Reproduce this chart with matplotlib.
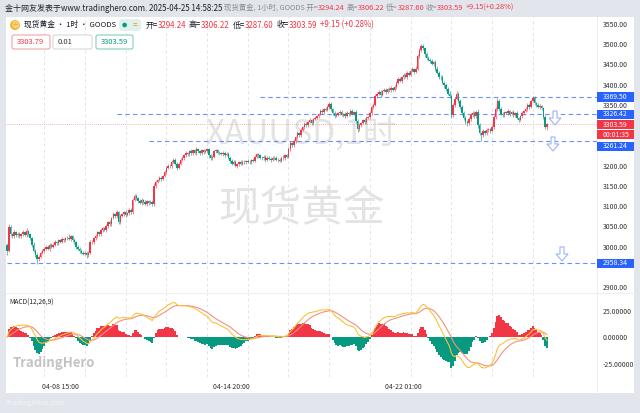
import matplotlib
matplotlib.use("Agg")
import matplotlib.pyplot as plt
import numpy as np
from matplotlib.patches import Rectangle, Circle, FancyBboxPatch, Polygon
from matplotlib.transforms import IdentityTransform

plt.rcParams['font.family'] = ['Noto Sans CJK SC', 'DejaVu Sans']

W, H = 640, 413

# hourly closes (04-07 morning -> 04-25 14:00)
closes = [
  2990, 3048, 3030, 3025, 3035, 3028, 3032, 3025, 3030, 3035,
  3028, 3038, 3030, 3020, 3005, 2990, 2980, 2968, 2975, 2985,
  2990, 2995, 3000, 2995, 3005, 3000, 3005, 3010, 3008, 3015,
  3012, 3018, 3015, 3020, 3022, 3018, 3025, 3015, 3010, 3000,
  2995, 2990, 2985, 2982, 2985, 2978, 2985, 3010, 3012, 3020,
  3025, 3035, 3030, 3040, 3045, 3042, 3050, 3060, 3055, 3070,
  3080, 3075, 3085, 3060, 3075, 3080, 3085, 3078, 3082, 3090,
  3085, 3115, 3125, 3120, 3112, 3108, 3115, 3110, 3105, 3112,
  3108, 3110, 3105, 3150, 3160, 3165, 3170, 3168, 3175, 3185,
  3195, 3200, 3198, 3210, 3215, 3205, 3195, 3205, 3215, 3220,
  3225, 3230, 3228, 3235, 3230, 3238, 3232, 3240, 3235, 3230,
  3238, 3233, 3236, 3240, 3225, 3218, 3222, 3235, 3238, 3232,
  3230, 3228, 3232, 3226, 3229, 3220, 3212, 3205, 3210, 3200,
  3203, 3208, 3205, 3210, 3208, 3212, 3210, 3209, 3214, 3212,
  3222, 3228, 3225, 3220, 3218, 3222, 3215, 3220, 3217, 3215,
  3220, 3218, 3214, 3215, 3212, 3220, 3218, 3225, 3222, 3240,
  3255, 3250, 3260, 3270, 3280, 3275, 3288, 3295, 3303, 3300,
  3308, 3312, 3305, 3315, 3318, 3322, 3328, 3335, 3332, 3340,
  3338, 3345, 3352, 3340, 3330, 3322, 3326, 3330, 3333, 3325,
  3328, 3322, 3330, 3327, 3335, 3328, 3332, 3310, 3290, 3300,
  3305, 3312, 3308, 3318, 3320, 3330, 3345, 3350, 3372, 3378,
  3382, 3375, 3385, 3388, 3382, 3390, 3386, 3392, 3388, 3395,
  3405, 3415, 3410, 3418, 3424, 3420, 3430, 3425, 3435, 3438,
  3432, 3440, 3470, 3485, 3495, 3490, 3475, 3465, 3462, 3458,
  3452, 3455, 3440, 3430, 3420, 3418, 3405, 3398, 3390, 3378,
  3372, 3325, 3350, 3365, 3378, 3360, 3345, 3330, 3318, 3308,
  3305, 3315, 3325, 3330, 3322, 3333, 3300, 3280, 3275, 3285,
  3280, 3288, 3290, 3285, 3295, 3320, 3340, 3360, 3340, 3328,
  3325, 3332, 3330, 3335, 3328, 3332, 3325, 3330, 3318, 3313,
  3322, 3330, 3335, 3340, 3350, 3345, 3360, 3368, 3355, 3350,
  3345, 3348, 3342, 3320, 3294.24, 3303.59,
]
first_open = 3005

# wick lengths above / below the body
upper_wick = [
  4, 7, 5, 4, 6, 3, 5, 4, 3, 5,
  4, 7, 3, 4, 3, 5, 4, 3, 4, 3,
  5, 3, 4, 5, 3, 4, 3, 5, 4, 3,
  4, 5, 3, 4, 3, 8, 4, 3, 5, 3,
  4, 3, 5, 3, 4, 3, 4, 5, 4, 3,
  5, 4, 3, 5, 4, 3, 5, 4, 6, 3,
  5, 4, 6, 4, 5, 3, 4, 5, 3, 4,
  5, 6, 5, 4, 3, 5, 4, 3, 5, 4,
  3, 4, 5, 6, 4, 3, 5, 4, 3, 5,
  4, 5, 3, 4, 5, 3, 4, 5, 3, 4,
  3, 5, 4, 3, 5, 4, 3, 5, 4, 3,
  4, 3, 5, 4, 3, 4, 5, 3, 4, 3,
  5, 3, 4, 3, 5, 4, 3, 4, 5, 3,
  4, 3, 5, 3, 4, 3, 4, 5, 3, 4,
  5, 4, 3, 4, 3, 5, 3, 4, 3, 4,
  3, 4, 5, 3, 4, 3, 5, 4, 3, 6,
  5, 4, 5, 4, 6, 4, 5, 4, 5, 4,
  3, 5, 4, 3, 5, 4, 3, 5, 4, 3,
  5, 4, 6, 4, 3, 5, 4, 3, 5, 4,
  3, 4, 5, 3, 4, 5, 3, 5, 4, 5,
  4, 3, 5, 4, 3, 5, 4, 5, 6, 4,
  5, 4, 3, 5, 4, 3, 5, 4, 3, 5,
  4, 5, 3, 4, 6, 4, 5, 3, 4, 5,
  4, 5, 6, 5, 6, 5, 4, 6, 5, 4,
  5, 4, 6, 5, 4, 5, 6, 4, 5, 4,
  6, 5, 4, 5, 6, 5, 4, 6, 5, 4,
  5, 4, 5, 6, 4, 5, 6, 5, 4, 5,
  4, 5, 3, 4, 5, 6, 5, 8, 5, 4,
  5, 3, 4, 5, 3, 4, 5, 3, 4, 3,
  4, 5, 3, 4, 5, 4, 3, 4, 5, 3,
  4, 5, 3, 4, 5, 2.63,
]
lower_wick = [
  10, 4, 5, 4, 3, 5, 4, 3, 5, 4,
  3, 4, 5, 4, 5, 4, 5, 11, 4, 3,
  4, 5, 3, 4, 5, 3, 4, 3, 5, 4,
  3, 4, 5, 3, 4, 3, 4, 5, 4, 5,
  4, 5, 3, 4, 3, 6, 5, 4, 3, 5,
  4, 3, 5, 4, 3, 4, 5, 3, 4, 5,
  3, 4, 5, 5, 4, 3, 5, 4, 3, 4,
  5, 4, 3, 5, 4, 3, 5, 4, 3, 4,
  5, 3, 4, 4, 5, 3, 4, 5, 3, 4,
  5, 3, 4, 5, 3, 4, 5, 4, 3, 4,
  5, 3, 4, 5, 3, 4, 3, 5, 4, 3,
  4, 5, 3, 4, 5, 4, 3, 4, 5, 3,
  4, 3, 5, 4, 3, 4, 5, 3, 4, 3,
  5, 3, 4, 3, 5, 4, 3, 4, 5, 3,
  4, 3, 5, 4, 3, 4, 5, 3, 4, 5,
  3, 4, 3, 5, 4, 3, 4, 5, 3, 4,
  5, 4, 3, 5, 4, 5, 4, 3, 5, 4,
  5, 3, 4, 5, 3, 4, 5, 3, 4, 5,
  4, 3, 4, 5, 4, 5, 3, 4, 5, 3,
  4, 5, 3, 4, 5, 3, 4, 5, 7, 4,
  5, 3, 4, 5, 3, 4, 5, 4, 3, 5,
  4, 5, 3, 4, 5, 3, 4, 5, 3, 4,
  5, 3, 4, 5, 4, 3, 5, 4, 3, 4,
  5, 4, 3, 4, 5, 4, 6, 5, 4, 5,
  4, 6, 5, 4, 5, 6, 4, 5, 6, 4,
  5, 7, 4, 5, 4, 6, 5, 4, 6, 5,
  6, 5, 4, 5, 4, 5, 6, 5, 13, 5,
  4, 5, 4, 5, 3, 4, 5, 4, 5, 4,
  5, 4, 3, 4, 5, 3, 4, 5, 4, 5,
  3, 4, 5, 3, 4, 5, 3, 4, 5, 4,
  3, 5, 4, 5, 4, 6.64,
]

time_labels = ["04-08 15:00", "04-14 20:00", "04-22 01:00"]
time_label_bars = [30, 127, 224]

levels = [3369.50, 3326.42, 3261.24, 2958.34]
level_start_bars = [143, 62, 80, 0]
last_price = 3303.59

UP = "#f23645"
DOWN = "#089981"
BLUE = "#2962ff"

closes = np.array(closes, dtype=float)
opens = np.concatenate([[first_open], closes[:-1]])
highs = np.maximum(opens, closes) + np.array(upper_wick)
lows = np.minimum(opens, closes) - np.array(lower_wick)
idx = np.arange(len(closes))
up = closes >= opens


def ema(v, n):
  out = np.empty_like(v)
  k = 2.0 / (n + 1)
  out[0] = v[0]
  for i in range(1, len(v)):
    out[i] = v[i] * k + out[i - 1] * (1 - k)
  return out

dif = ema(closes, 12) - ema(closes, 26)
dea = ema(dif, 9)
hist = 2 * (dif - dea)

fig = plt.figure(figsize=(W / 100, H / 100), dpi=100, facecolor="#e2e5ec")
PX = IdentityTransform()


def rect(x0, y0, x1, y1, **kw):
  fig.add_artist(Rectangle((x0, H - y1), x1 - x0, y1 - y0, transform=PX, **kw))


def text(x, y, s, **kw):
  kw.setdefault("va", "center")
  return fig.text(x, H - y, s, transform=PX, **kw)


def runs(x, y, parts, size):
  r = fig.canvas.get_renderer()
  for s, c, gap in parts:
    t = text(x, y, s, color=c, fontsize=size, ha="left")
    x = t.get_window_extent(renderer=r).x1 + gap
  return x


# white chart panel
rect(6, 17, 634, 393, facecolor="white", edgecolor="none", zorder=0)

ax = fig.add_axes([6 / W, 1 - 292 / H, 591 / W, 275 / H])
ax2 = fig.add_axes([6 / W, 1 - 377 / H, 591 / W, 84 / H])
for a in (ax, ax2):
  a.set_facecolor("none")
  for sp in a.spines.values():
    sp.set_visible(False)
  a.set_xlim(-0.6, 333.3)
  for g in np.arange(21, 300, 23.0):
    a.axvline(g, color="#e4e4e4", lw=0.7, ls=(0, (3, 3)), zorder=0)

price_ticks = np.arange(2900, 3551, 50)
hidden = {3300, 3250, 2950}  # covered by the price tags
ax.set_ylim(2887.6, 3567.3)
ax.yaxis.tick_right()
ax.set_yticks(price_ticks)
ax.set_yticklabels(["" if v in hidden else "%.2f" % v for v in price_ticks])
ax.tick_params(axis="y", length=0, pad=4.3, labelsize=5, labelcolor="#333333")
ax.set_xticks([])

# watermark
ax.text(0.5, 0.57, "XAUUSD,1时", transform=ax.transAxes, ha="center", va="center",
        fontsize=24, color="#e3e3e3", zorder=0)
ax.text(0.5, 0.30, "现货黄金", transform=ax.transAxes, ha="center", va="center",
        fontsize=30, color="#e3e3e3", zorder=0)

# candles
ax.vlines(idx, lows, highs, colors=np.where(up, UP, DOWN), lw=0.7, alpha=0.6, zorder=2)
ax.bar(idx, closes - opens, bottom=opens, width=0.85, color=np.where(up, UP, DOWN),
       linewidth=0, zorder=3)

# drawn levels
for lv, st in zip(levels, level_start_bars):
  ax.plot([st, 333.3], [lv, lv], color=BLUE, lw=0.8, ls=(0, (4, 3)), alpha=0.7, zorder=1)
ax.axhline(last_price, color=UP, lw=0.6, ls=(0, (1, 1.5)), alpha=0.5, zorder=1)

# MACD
ax2.set_ylim(-37.7, 41.5)
ax2.bar(idx, hist, width=1.0, color=np.where(hist >= 0, UP, DOWN), linewidth=0, zorder=2)
ax2.plot(idx, dea, color="#f4917f", lw=0.8, zorder=3)
ax2.plot(idx, dif, color="#f8c23c", lw=0.8, zorder=4)
ax2.yaxis.tick_right()
ax2.set_yticks([-25, 0, 25])
ax2.set_yticklabels(["-25.00000", "0.00000", "25.00000"])
ax2.tick_params(axis="y", length=0, pad=4.3, labelsize=5, labelcolor="#333333")
ax2.set_xticks(time_label_bars)
ax2.set_xticklabels(time_labels)
ax2.tick_params(axis="x", length=0, pad=4, labelsize=5, labelcolor="#333333")
ax2.text(0.006, 0.88, "MACD(12,26,9)", transform=ax2.transAxes, fontsize=4.8,
         color="#222222", va="center")
ax2.text(0.012, 0.17, "TradingHero", transform=ax2.transAxes, fontsize=9.5,
         fontweight="bold", color="#b5b5b5", va="center", alpha=0.8, zorder=5)

# axis separators
fig.add_artist(plt.Line2D([597, 597], [H - 393, H - 17], transform=PX, color="#eeeeee", lw=0.8))
fig.add_artist(plt.Line2D([6, 634], [H - 292.5, H - 292.5], transform=PX, color="#eeeeee", lw=0.8))


def price_px(p):
  y0, y1 = ax.get_ylim()
  return 17 + (y1 - p) / (y1 - y0) * 275


# price tags on the right scale
tags = [("3369.50", BLUE, price_px(3369.50)),
        ("3326.42", BLUE, price_px(3326.42)),
        ("3303.59", UP, price_px(last_price) + 1),
        ("00:01:35", UP, price_px(last_price) + 11),
        ("3261.24", BLUE, price_px(3261.24) + 5.5),
        ("2958.34", BLUE, price_px(2958.34))]
for s, c, yc in tags:
  rect(597, yc - 4.6, 634, yc + 4.6, facecolor=c, edgecolor="none", zorder=5)
  text(603, yc, s, color="white", fontsize=5, ha="left", zorder=6)

# hollow down arrows
for cx, cy in [(555, 118), (553, 144), (562, 254)]:
  pts = [(-2, -7), (2, -7), (2, 0), (6, 0), (0, 7), (-6, 0), (-2, 0)]
  fig.add_artist(Polygon([(cx + dx, H - (cy + dy)) for dx, dy in pts], closed=True,
                         transform=PX, facecolor="white", edgecolor="#9fb3f7", lw=0.8, zorder=6))

# header line
x = runs(5, 8, [("金十网友发表于www.tradinghero.com. 2025-04-25 14:58:25", "#222222", 2)], 5.75)
runs(x, 8, [("现货黄金, 1小时, GOODS 开=", "#8a8a8a", 0), ("3294.24", UP, 1.5),
            ("高=", "#8a8a8a", 0), ("3306.22", UP, 1.5),
            ("低=", "#8a8a8a", 0), ("3287.60", UP, 1.5),
            ("收=", "#8a8a8a", 0), ("3303.59", UP, 2),
            ("+9.15(+0.28%)", UP, 0)], 5.3)

# legend row
fig.add_artist(Circle((15, H - 25), 5, transform=PX, facecolor="#f5b731", edgecolor="none", zorder=6))
text(15, 25, "☺", color="white", fontsize=5, ha="center", zorder=7)
x = runs(24, 25, [("现货黄金 · 1时 · GOODS", "#131722", 3)], 5.6)
fig.add_artist(FancyBboxPatch((x, H - 31), 22, 12, boxstyle="round,pad=0,rounding_size=3",
                              transform=PX, facecolor="#dff1ea", edgecolor="none", zorder=6))
fig.add_artist(Circle((x + 5.5, H - 25), 2.3, transform=PX, facecolor=DOWN, edgecolor="none", zorder=7))
text(x + 16, 25, "=", color="#f7931a", fontsize=6, ha="center", zorder=7)
runs(x + 26, 25, [("开=", "#131722", 0), ("3294.24", UP, 3),
                  ("高=", "#131722", 0), ("3306.22", UP, 3),
                  ("低=", "#131722", 0), ("3287.60", UP, 3),
                  ("收=", "#131722", 0), ("3303.59", UP, 3),
                  ("+9.15 (+0.28%)", UP, 0)], 5.7)

# order boxes
for x0, x1, s, ec, tc in [(12, 50, "3303.79", "#f4a3aa", UP),
                          (53, 92, "0.01", "#d8d8d8", "#333333"),
                          (96, 133, "3303.59", "#7fd1bb", DOWN)]:
  fig.add_artist(FancyBboxPatch((x0, H - 49), x1 - x0, 14, boxstyle="round,pad=0,rounding_size=2",
                                transform=PX, facecolor="white", edgecolor=ec, lw=0.8, zorder=6))
  text(x0 + 5, 42, s, color=tc, fontsize=5.5, ha="left", zorder=7)

text(6, 403, "TradingHero.com", color="#eef0f5", fontsize=5, fontweight="bold", ha="left")

fig.savefig("out.png", dpi=100, facecolor=fig.get_facecolor())
